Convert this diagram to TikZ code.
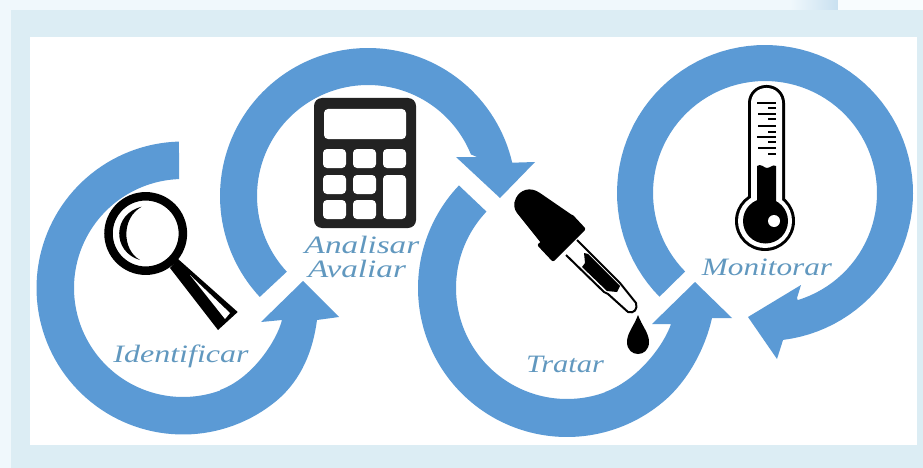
\documentclass[tikz,border=0pt]{standalone}
\usepackage{tikz}
\usepackage{fontspec}
\newfontfamily\handfont{Liberation Serif}
\definecolor{ringblue}{HTML}{5B9AD5}
\definecolor{bgmid}{HTML}{DCEDF4}
\definecolor{bglight}{HTML}{F0F8FC}
\definecolor{bgedge}{HTML}{C9E0F0}
\definecolor{iconblack}{HTML}{000000}
\definecolor{calcblack}{HTML}{222222}
\definecolor{labelblue}{HTML}{6198BF}
\tikzset{
  lbl/.style={text=labelblue,font=\handfont\fontsize{25}{25}\selectfont\itshape,inner sep=0pt,anchor=base,transform shape},
  arcs/.style={samples=90}
}
\begin{document}
\begin{tikzpicture}[x=1pt,y=-1pt]
\useasboundingbox (0,0) rectangle (923,468);
% background
\fill[bgmid] (0,0) rectangle (923,468);
\fill[bglight] (0,0) rectangle (11,468);
\fill[bglight] (0,0) rectangle (790,10);
\shade[left color=bglight,right color=bgedge] (790,0) rectangle (838,10);
\fill[white!55!bglight] (838,0) rectangle (923,10);
\fill[white] (30,37) rectangle (917,445);
% rings
\fill[ringblue] plot[arcs,domain=268.4:50] ({183+146.5*cos(\x)},{288+146.5*sin(\x)}) .. controls (302,379) and (313,350) .. (317,320) -- (339,317) -- (303,281) -- (261,322) -- (282,320) .. controls (277,340) and (253,378) .. (220,390) -- plot[arcs,domain=70:268] ({183+109*cos(\x)},{288+109*sin(\x)}) -- cycle;
\fill[ringblue] plot[arcs,domain=137:347] ({368+148*cos(\x)},{196+148*sin(\x)}) -- (535,162) -- (500,198) -- (456,157) -- (477,157) -- plot[arcs,domain=338:137] ({368+111*cos(\x)},{196+111*sin(\x)}) -- cycle;
\fill[ringblue] plot[arcs,domain=223.5:50] ({567+149*cos(\x)},{288+149*sin(\x)}) .. controls (690,379.5) and (706,345) .. (712,318) -- (732,318) -- (695,282) -- (652,324) -- (671,324) .. controls (664,345) and (638,380) .. (605,392) -- plot[arcs,domain=70:223.5] ({567+111*cos(\x)},{288+111*sin(\x)}) -- cycle;
\fill[ringblue] plot[arcs,domain=135.5:443] ({765+148*cos(\x)},{193+148*sin(\x)}) -- (777,359) -- (748,317) -- (801,285) -- (797,298) -- plot[arcs,domain=433:135.5] ({765+112*cos(\x)},{193+112*sin(\x)}) -- cycle;
% magnifier
\draw[iconblack,line width=8.5pt] (145.7,233.5) circle (37.2);
\fill[iconblack] (141.7,206.7) .. controls (112,214) and (112,252) .. (140,260) .. controls (122,250) and (121,218) .. (141.7,206.7) -- cycle;
\fill[iconblack] (178,259) -- (237.7,312) -- (218,330) -- (170,268) -- cycle;
\fill[white] (190,275) -- (230,313) -- (225,319) -- cycle;
% calculator
\fill[calcblack,rounded corners=8pt] (314,98) rectangle (416,228);
\begin{scope}[white,rounded corners=4pt]
\fill (324,109) rectangle (406,139);
\fill (323,149) rectangle (346,168);
\fill (353,149) rectangle (376,168);
\fill (383,149) rectangle (406,168);
\fill (323,175) rectangle (346,194);
\fill (353,175) rectangle (376,194);
\fill (383,175) rectangle (406,219);
\fill (323,200) rectangle (346,219);
\fill (353,200) rectangle (376,219);
\end{scope}
% dropper
\fill[iconblack] (540,193) .. controls (530,186) and (520,190) .. (516,198) .. controls (513,204) and (514,209) .. (517,213) -- (541,243) -- (572,215) -- cycle;
\fill[iconblack,rounded corners=2pt] (572,214) -- (586,229) -- (553,262) -- (537,245) -- cycle;
\draw[iconblack,line width=2pt,line join=round,fill=white] (577,240) -- (620,283) -- (636,303) .. controls (638,309) and (634,314) .. (628,312) -- (608,294) -- (604,292) -- (566,255);
\fill[iconblack] (584,253) -- (588,254) -- (620,286) -- (617,292) -- (607,291) -- (582,267) -- (585,263) -- cycle;
\fill[iconblack] (638,315) .. controls (634,326) and (627,333) .. (627,342) .. controls (627,358) and (649,358) .. (649,342) .. controls (649,333) and (642,326) .. (638,315) -- cycle;
% thermometer
\fill[iconblack] (765,221) circle (30);
\fill[iconblack,rounded corners=18pt] (748,85) rectangle (785,225);
\fill[white] (765,221) circle (27);
\fill[white,rounded corners=15pt] (751,88) rectangle (782,225);
\fill[iconblack] (765.5,221) circle (22.5);
\fill[iconblack] (757,205) -- (757,166) .. controls (761,163) and (764,168) .. (767,168) .. controls (770,168) and (773,164) .. (776,166) -- (776,205) -- cycle;
\fill[white] (774,221) circle (6);
\foreach \yy/\xx in {103/757,108/768,114/758,119/768,126/758,132/768,137/757,142/768,148/758,154/768}
  \fill[iconblack] (\xx,\yy-1.2) rectangle (776,\yy+1.2);
% labels
\node[lbl,xscale=1.28] (identificar) at (181,362) {Identificar};
\node[lbl,xscale=1.33] (analisar) at (362,253) {Analisar};
\node[lbl,xscale=1.33] (avaliar) at (357,277) {Avaliar};
\node[lbl,xscale=1.22] (tratar) at (565,372) {Tratar};
\node[lbl,xscale=1.25] (monitorar) at (767,275) {Monitorar};
\end{tikzpicture}
\end{document}
